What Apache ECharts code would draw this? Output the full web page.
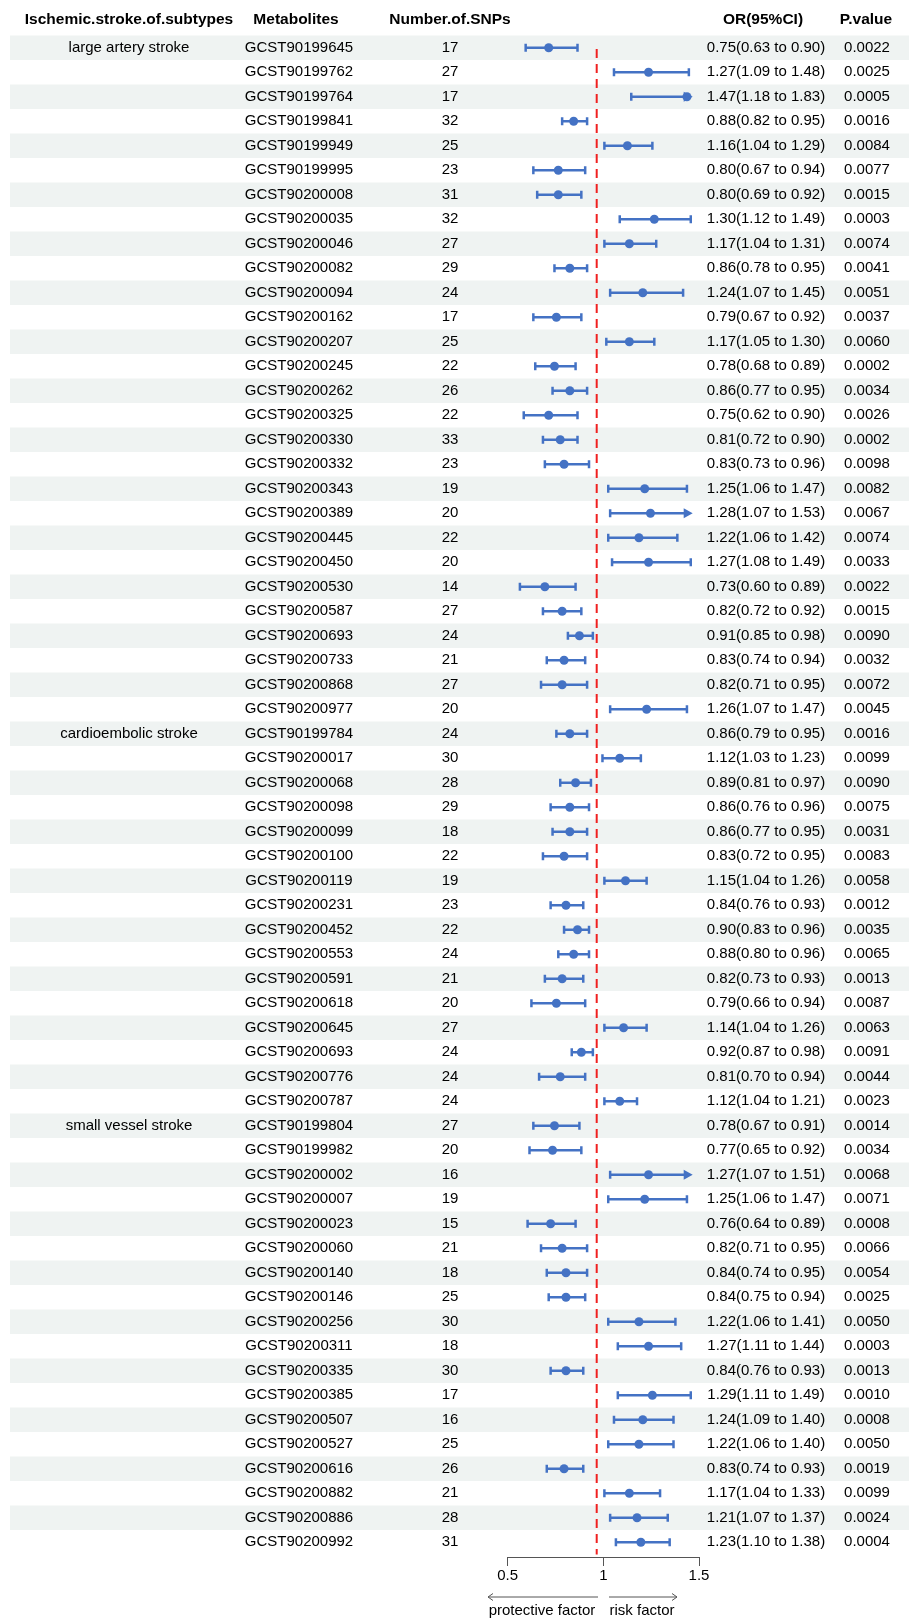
<!DOCTYPE html>
<html>
<head>
<meta charset="utf-8">
<title>Forest plot - ischemic stroke subtypes</title>
<script src="https://cdn.jsdelivr.net/npm/echarts@6/dist/echarts.min.js"></script>
<style>
html, body { margin: 0; padding: 0; background: #fff; }
#chart { width: 909px; height: 1619px; }
</style>
</head>
<body>
<div id="chart"></div>
<script>
// ---- data ----
var subtypes = [
  'large artery stroke', '', '', '', '', '', '', '', '', '', '', '', '', '', '', '', '', '', '', '', '', '', '', '', '', '', '', '',
  'cardioembolic stroke', '', '', '', '', '', '', '', '', '', '', '', '', '', '', '',
  'small vessel stroke', '', '', '', '', '', '', '', '', '', '', '', '', '', '', '', '', ''
];
var metabolites = [
  'GCST90199645','GCST90199762','GCST90199764','GCST90199841','GCST90199949','GCST90199995','GCST90200008',
  'GCST90200035','GCST90200046','GCST90200082','GCST90200094','GCST90200162','GCST90200207','GCST90200245',
  'GCST90200262','GCST90200325','GCST90200330','GCST90200332','GCST90200343','GCST90200389','GCST90200445',
  'GCST90200450','GCST90200530','GCST90200587','GCST90200693','GCST90200733','GCST90200868','GCST90200977',
  'GCST90199784','GCST90200017','GCST90200068','GCST90200098','GCST90200099','GCST90200100','GCST90200119',
  'GCST90200231','GCST90200452','GCST90200553','GCST90200591','GCST90200618','GCST90200645','GCST90200693',
  'GCST90200776','GCST90200787',
  'GCST90199804','GCST90199982','GCST90200002','GCST90200007','GCST90200023','GCST90200060','GCST90200140',
  'GCST90200146','GCST90200256','GCST90200311','GCST90200335','GCST90200385','GCST90200507','GCST90200527',
  'GCST90200616','GCST90200882','GCST90200886','GCST90200992'
];
var snps = [
  17,27,17,32,25,23,31,32,27,29,24,17,25,22,26,22,33,23,19,20,22,20,14,27,24,21,27,20,
  24,30,28,29,18,22,19,23,22,24,21,20,27,24,24,24,
  27,20,16,19,15,21,18,25,30,18,30,17,16,25,26,21,28,31
];
var orValues = [
  0.75,1.27,1.47,0.88,1.16,0.80,0.80,1.30,1.17,0.86,1.24,0.79,1.17,0.78,0.86,0.75,0.81,0.83,1.25,1.28,1.22,1.27,0.73,0.82,0.91,0.83,0.82,1.26,
  0.86,1.12,0.89,0.86,0.86,0.83,1.15,0.84,0.90,0.88,0.82,0.79,1.14,0.92,0.81,1.12,
  0.78,0.77,1.27,1.25,0.76,0.82,0.84,0.84,1.22,1.27,0.84,1.29,1.24,1.22,0.83,1.17,1.21,1.23
];
var lowerCI = [
  0.63,1.09,1.18,0.82,1.04,0.67,0.69,1.12,1.04,0.78,1.07,0.67,1.05,0.68,0.77,0.62,0.72,0.73,1.06,1.07,1.06,1.08,0.60,0.72,0.85,0.74,0.71,1.07,
  0.79,1.03,0.81,0.76,0.77,0.72,1.04,0.76,0.83,0.80,0.73,0.66,1.04,0.87,0.70,1.04,
  0.67,0.65,1.07,1.06,0.64,0.71,0.74,0.75,1.06,1.11,0.76,1.11,1.09,1.06,0.74,1.04,1.07,1.10
];
var upperCI = [
  0.90,1.48,1.83,0.95,1.29,0.94,0.92,1.49,1.31,0.95,1.45,0.92,1.30,0.89,0.95,0.90,0.90,0.96,1.47,1.53,1.42,1.49,0.89,0.92,0.98,0.94,0.95,1.47,
  0.95,1.23,0.97,0.96,0.95,0.95,1.26,0.93,0.96,0.96,0.93,0.94,1.26,0.98,0.94,1.21,
  0.91,0.92,1.51,1.47,0.89,0.95,0.95,0.94,1.41,1.44,0.93,1.49,1.40,1.40,0.93,1.33,1.37,1.38
];
var pValues = [
  '0.0022','0.0025','0.0005','0.0016','0.0084','0.0077','0.0015','0.0003','0.0074','0.0041','0.0051','0.0037','0.0060','0.0002',
  '0.0034','0.0026','0.0002','0.0098','0.0082','0.0067','0.0074','0.0033','0.0022','0.0015','0.0090','0.0032','0.0072','0.0045',
  '0.0016','0.0099','0.0090','0.0075','0.0031','0.0083','0.0058','0.0012','0.0035','0.0065','0.0013','0.0087','0.0063','0.0091',
  '0.0044','0.0023',
  '0.0014','0.0034','0.0068','0.0071','0.0008','0.0066','0.0054','0.0025','0.0050','0.0003','0.0013','0.0010','0.0008','0.0050',
  '0.0019','0.0099','0.0024','0.0004'
];
var headers = ['Ischemic.stroke.of.subtypes', 'Metabolites', 'Number.of.SNPs', 'OR(95%CI)', 'P.value'];
var xTicks = [0.5, 1, 1.5];

// ---- layout ----
var FONT = '"Liberation Sans", Arial, Helvetica, sans-serif';
var BLUE = '#4472c4';
var colX = [129, 299, 450, 766, 867];
var headX = [129, 296, 450, 763, 866];
var nRows = metabolites.length;
var rowTop = 35.5, rowH = 24.5;

function fmt(v) { return v.toFixed(2); }

var tableData = metabolites.map(function (m, i) { return [1, i]; });
var ciData = metabolites.map(function (m, i) { return [orValues[i], i, lowerCI[i], upperCI[i]]; });

var chart = echarts.init(document.getElementById('chart'), null, { renderer: 'canvas' });

function renderRow(params, api) {
  var i = api.value(1);
  var top = api.coord([1, i - 0.5])[1];
  var bot = api.coord([1, i + 0.5])[1];
  var mid = (top + bot) / 2;
  var kids = [];
  if (i % 2 === 0) {
    kids.push({ type: 'rect', shape: { x: 10, y: top, width: 899, height: bot - top }, style: { fill: '#eff3f2' } });
  }
  var cells = [
    subtypes[i], metabolites[i], String(snps[i]),
    fmt(orValues[i]) + '(' + fmt(lowerCI[i]) + ' to ' + fmt(upperCI[i]) + ')',
    pValues[i]
  ];
  cells.forEach(function (s, c) {
    if (!s) return;
    kids.push({
      type: 'text', x: colX[c], y: mid,
      style: { text: s, align: 'center', verticalAlign: 'middle', fill: '#000', font: '15px ' + FONT }
    });
  });
  return { type: 'group', children: kids };
}

function renderCI(params, api) {
  var i = api.value(1);
  var est = api.value(0), lo = api.value(2), hi = api.value(3);
  var p = api.coord([est, i]);
  var y = p[1];
  var xLo = api.coord([Math.max(lo, 0.5), i])[0];
  var clipped = hi > 1.5;
  var xHi = api.coord([Math.min(hi, 1.5), i])[0];
  var ls = { stroke: BLUE, lineWidth: 2.5 };
  var kids = [
    { type: 'line', shape: { x1: xLo, y1: y, x2: clipped ? xHi - 6 : xHi, y2: y }, style: ls },
    { type: 'line', shape: { x1: xLo, y1: y - 4, x2: xLo, y2: y + 4 }, style: ls }
  ];
  if (clipped) {
    kids.push({ type: 'polygon', shape: { points: [[xHi, y], [xHi - 9, y - 5], [xHi - 9, y + 5]] }, style: { fill: BLUE } });
  } else {
    kids.push({ type: 'line', shape: { x1: xHi, y1: y - 4, x2: xHi, y2: y + 4 }, style: ls });
  }
  kids.push({ type: 'circle', shape: { cx: p[0], cy: y, r: 4.5 }, style: { fill: BLUE } });
  return { type: 'group', children: kids };
}

var headerGraphics = headers.map(function (h, c) {
  return {
    type: 'text', x: headX[c], y: 19.5,
    style: { text: h, align: 'center', verticalAlign: 'middle', fill: '#000', font: 'bold 15.5px ' + FONT }
  };
});

var AX = '#555';
var arrowGraphics = [
  { type: 'line', shape: { x1: 488, y1: 1597, x2: 598, y2: 1597 }, style: { stroke: AX, lineWidth: 1 } },
  { type: 'polyline', shape: { points: [[493, 1593.5], [488, 1597], [493, 1600.5]] }, style: { stroke: AX, lineWidth: 1, fill: null } },
  { type: 'line', shape: { x1: 609, y1: 1597, x2: 677, y2: 1597 }, style: { stroke: AX, lineWidth: 1 } },
  { type: 'polyline', shape: { points: [[672, 1593.5], [677, 1597], [672, 1600.5]] }, style: { stroke: AX, lineWidth: 1, fill: null } },
  { type: 'text', x: 542, y: 1611, style: { text: 'protective factor', align: 'center', verticalAlign: 'middle', fill: '#000', font: '15px ' + FONT } },
  { type: 'text', x: 642, y: 1611, style: { text: 'risk factor', align: 'center', verticalAlign: 'middle', fill: '#000', font: '15px ' + FONT } }
];

var option = {
  animation: false,
  backgroundColor: '#fff',
  grid: [
    { left: 500.7, width: 192, top: rowTop, height: nRows * rowH },
    { left: 507.6, width: 191.4, top: 1500, height: 57 }
  ],
  xAxis: [
    { gridIndex: 0, type: 'value', min: 0.5, max: 1.5, show: false },
    {
      gridIndex: 1, type: 'value', min: xTicks[0], max: xTicks[xTicks.length - 1], interval: 0.5,
      axisLine: { show: true, lineStyle: { color: AX, width: 1 } },
      axisTick: { show: true, length: 9, lineStyle: { color: AX } },
      axisLabel: { color: '#000', fontSize: 15, fontFamily: FONT, margin: 11 },
      splitLine: { show: false }
    }
  ],
  yAxis: [
    { gridIndex: 0, type: 'value', min: -0.5, max: nRows - 0.5, inverse: true, show: false },
    { gridIndex: 1, type: 'value', min: 0, max: 1, show: false }
  ],
  graphic: headerGraphics.concat(arrowGraphics),
  series: [
    {
      type: 'custom', name: 'table', xAxisIndex: 0, yAxisIndex: 0, z: 1,
      renderItem: renderRow, data: tableData, silent: true
    },
    {
      type: 'line', name: 'ref', xAxisIndex: 0, yAxisIndex: 0, z: 3,
      data: [[1, 0.05], [1, nRows - 0.5]], symbol: 'none', silent: true,
      lineStyle: { color: '#f02020', width: 2, type: [9, 6] }
    },
    {
      type: 'custom', name: 'OR', xAxisIndex: 0, yAxisIndex: 0, z: 4,
      renderItem: renderCI, data: ciData, silent: true
    }
  ]
};
chart.setOption(option);
</script>
</body>
</html>
